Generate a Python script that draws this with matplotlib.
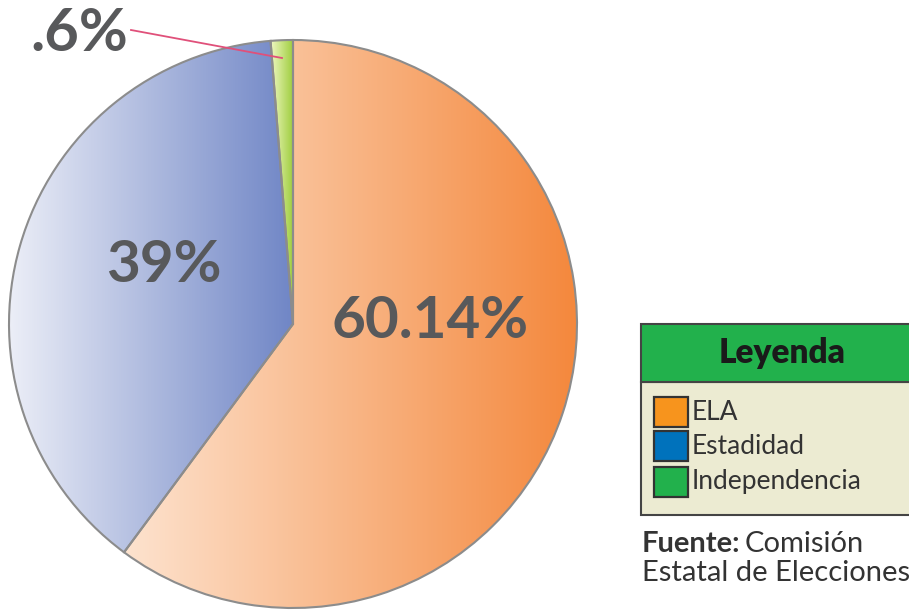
import matplotlib
matplotlib.use("Agg")
import matplotlib.pyplot as plt
import numpy as np
from matplotlib.colors import LinearSegmentedColormap
from matplotlib.patches import Rectangle

categories = ["ELA", "Estadidad", "Independencia"]
values = [60.14, 38.6, 1.26]           # green slice drawn as it appears in the picture
pct_labels = ["60.14%", "39%", ".6%"]
legend_colors = ["#f7941d", "#0072bc", "#22b14c"]
grad_colors = [("#fde3cf", "#f4873b"), ("#eef0f8", "#7086c6"), ("#eef7c0", "#9ccc3a")]

W, H = 909, 612
fig = plt.figure(figsize=(W / 100, H / 100), dpi=100)
ax = fig.add_axes([0, 0, 1, 1])

cx, cy, r = 293, H - 324, 284
wedges, _ = ax.pie(values, startangle=90, counterclock=False, center=(cx, cy),
                   radius=r, wedgeprops=dict(facecolor="none", edgecolor="#8c8c8c", linewidth=1.5))

# horizontal gradient inside each slice
for w, (c0, c1) in zip(wedges, grad_colors):
    verts = w.get_path().vertices
    x0, x1 = verts[:, 0].min(), verts[:, 0].max()
    y0, y1 = verts[:, 1].min(), verts[:, 1].max()
    cmap = LinearSegmentedColormap.from_list("g", [c0, c1])
    img = ax.imshow(np.linspace(0, 1, 256).reshape(1, -1), cmap=cmap, aspect="auto",
                    extent=(x0, x1, y0, y1), origin="lower", zorder=0.5)
    img.set_clip_path(w)

ax.set_xlim(0, W)
ax.set_ylim(0, H)
ax.set_aspect("equal", adjustable="box")
ax.axis("off")

txt = "#58595b"
fnt = "Lato"
ax.text(430, H - 322, pct_labels[0], ha="center", va="center", fontsize=42,
        fontweight="bold", color=txt, family=fnt)
ax.text(164, H - 265, pct_labels[1], ha="center", va="center", fontsize=42,
        fontweight="bold", color=txt, family=fnt)
ax.text(79, H - 34, pct_labels[2], ha="center", va="center", fontsize=43,
        fontweight="bold", color=txt, family=fnt)
ax.plot([131, 282], [H - 30, H - 58], color="#e0507a", lw=1.3)

# legend box
ax.add_patch(Rectangle((641, H - 515), 280, 133, facecolor="#ecebd2", edgecolor="#444444", lw=1.5))
ax.add_patch(Rectangle((641, H - 382), 280, 58, facecolor="#22b14c", edgecolor="#444444", lw=1.5))
ax.text(782, H - 353, "Leyenda", ha="center", va="center", fontsize=24,
        fontweight="heavy", color="#1a1a1a", family=fnt)
tops = [397, 431, 467]
for t, lab, col in zip(tops, categories, legend_colors):
    ax.add_patch(Rectangle((654, H - t - 30), 34, 30, facecolor=col, edgecolor="#333333", lw=1.6))
    ax.text(692, H - t - 15, lab, ha="left", va="center", fontsize=19,
            color="#333333", family=fnt)

ax.text(642, H - 552, "Fuente:", ha="left", va="baseline", fontsize=21,
        fontweight="bold", color="#333333", family=fnt)
ax.text(745, H - 552, "Comisión", ha="left", va="baseline", fontsize=21,
        color="#333333", family=fnt)
ax.text(642, H - 581, "Estatal de Elecciones", ha="left", va="baseline", fontsize=21,
        color="#333333", family=fnt)

fig.savefig("out.png", dpi=100)
